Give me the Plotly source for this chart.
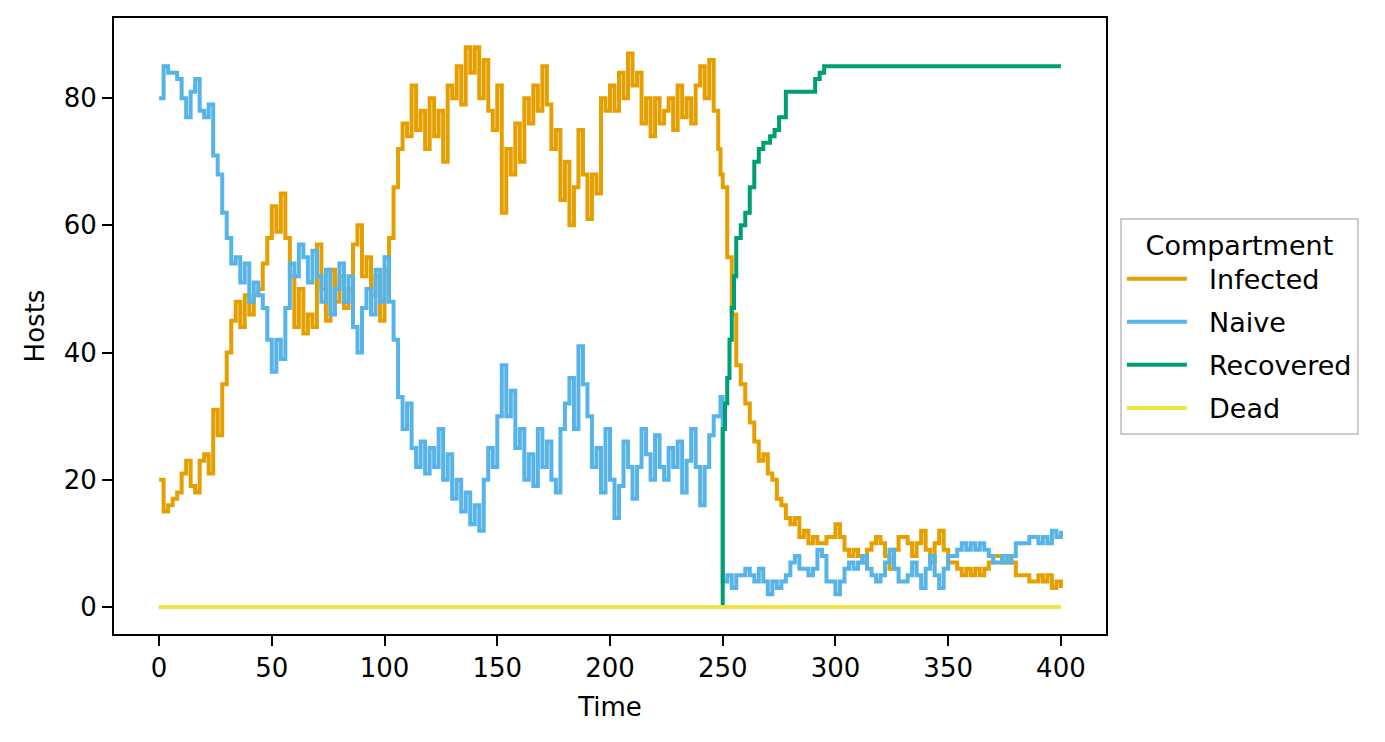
import plotly.graph_objects as go

# Shared time grid for Infected / Naive (249 added for the sudden drop at t=250)
time = list(range(0, 250, 2)) + [249] + list(range(250, 401, 2))

infected = [
    20, 15, 16, 17, 18, 21, 23, 19, 18, 23, 24, 21, 31, 27, 35, 40, 45, 48, 44, 49,   # 0-38
    46, 49, 50, 54, 58, 63, 59, 65, 58, 52, 44, 50, 43, 46, 44, 57, 50, 45, 53, 48,   # 40-78
    52, 47, 50, 57, 60, 52, 55, 49, 52, 45, 53, 58, 66, 72, 76, 74, 82, 75, 78, 72,   # 80-118
    80, 74, 78, 70, 82, 80, 85, 79, 88, 84, 88, 80, 86, 78, 75, 82, 62, 72, 68, 76,   # 120-158
    70, 80, 76, 82, 78, 85, 79, 72, 75, 64, 70, 60, 66, 75, 68, 61, 68, 65, 80, 78,   # 160-198
    82, 78, 84, 80, 87, 82, 84, 76, 80, 74, 80, 76, 78, 80, 75, 82, 77, 80, 76, 82,   # 200-238
    85, 80, 86, 78, 72,                                                               # 240-248
    68,                                                                               # 249
    66, 55, 46, 38, 35, 32, 29, 26, 23, 24, 21, 20, 17, 16, 14, 13, 14, 11, 12, 10,   # 250-288
    11, 10, 10, 11, 11, 13, 11, 9, 8, 9, 8, 7, 9, 10, 11, 10, 8, 6, 9, 11,            # 290-328
    11, 10, 8, 10, 12, 9, 7, 10, 12, 9, 7, 7, 6, 5, 6, 5, 6, 5, 6, 7,                 # 330-368
    8, 8, 7, 8, 7, 5, 5, 5, 4, 4, 5, 4, 5, 3, 4, 3,                                   # 370-400
]

naive = [
    80, 85, 84, 84, 83, 80, 77, 81, 83, 78, 77, 79, 71, 68, 62, 58, 54, 55, 51, 54,   # 0-38
    48, 51, 49, 47, 42, 37, 42, 39, 47, 54, 52, 57, 55, 51, 56, 52, 48, 53, 46, 50,   # 40-78
    54, 48, 52, 44, 40, 47, 50, 46, 53, 48, 55, 48, 42, 33, 28, 32, 25, 22, 26, 21,   # 80-118
    25, 22, 28, 20, 24, 17, 20, 15, 18, 13, 16, 12, 20, 25, 22, 30, 38, 30, 34, 25,   # 120-158
    28, 20, 24, 19, 28, 22, 26, 20, 18, 28, 32, 36, 28, 41, 35, 30, 22, 25, 18, 28,   # 160-198
    20, 14, 19, 26, 22, 17, 22, 28, 24, 20, 27, 22, 20, 25, 22, 26, 18, 23, 28, 22,   # 200-238
    16, 22, 27, 30, 30,                                                               # 240-248
    33,                                                                               # 249
    4, 5, 3, 5, 5, 6, 5, 4, 6, 4, 2, 4, 3, 4, 5, 7, 8, 6, 6, 5,                       # 250-288
    6, 9, 8, 4, 4, 2, 4, 6, 7, 6, 7, 8, 6, 5, 4, 5, 7, 9, 6, 4,                       # 290-328
    4, 5, 7, 5, 3, 6, 8, 5, 3, 6, 8, 8, 9, 10, 9, 10, 9, 10, 9, 8,                    # 330-368
    7, 7, 8, 7, 8, 10, 10, 10, 11, 11, 10, 11, 10, 12, 11, 12,                        # 370-400
]

recovered_t = [0, 249.9, 250, 251, 252, 253, 254, 255, 256, 258, 260, 262, 264, 266,
               268, 271, 273, 275, 278, 291, 293, 295, 400]
recovered = [0, 0, 28, 32, 36, 42, 47, 52, 58, 60, 62, 66, 70, 72,
             73, 74, 75, 77, 81, 83, 84, 85, 85]

dead_t = [0, 400]
dead = [0, 0]

x_ticks = [0, 50, 100, 150, 200, 250, 300, 350, 400]
y_ticks = [0, 20, 40, 60, 80]

colors = {"Infected": "#E69F00", "Naive": "#56B4E9",
          "Recovered": "#009E73", "Dead": "#F0E442"}

LW = 4
PAD = "  "  # visual gap between legend line sample and label, as in the reference
fig = go.Figure()
fig.add_trace(go.Scatter(x=time, y=infected, mode="lines", name=PAD + "Infected", legendgroup="a",
                         line=dict(color=colors["Infected"], width=LW, shape="hv")))
fig.add_trace(go.Scatter(x=time, y=naive, mode="lines", name=PAD + "Naive", legendgroup="b",
                         line=dict(color=colors["Naive"], width=LW, shape="hv")))
fig.add_trace(go.Scatter(x=recovered_t, y=recovered, mode="lines", name=PAD + "Recovered",
                         legendgroup="c",
                         line=dict(color=colors["Recovered"], width=LW, shape="hv")))
fig.add_trace(go.Scatter(x=dead_t, y=dead, mode="lines", name=PAD + "Dead", legendgroup="d",
                         line=dict(color=colors["Dead"], width=LW)))

axis_common = dict(showline=True, mirror=True, linecolor="black", linewidth=1.8,
                   ticks="outside", ticklen=10, tickwidth=1.8, tickcolor="black",
                   showgrid=False, zeroline=False,
                   tickfont=dict(size=26, color="black"))

fig.update_layout(
    width=1385, height=742,
    margin=dict(l=114, r=279, t=18, b=108),
    paper_bgcolor="white", plot_bgcolor="white",
    font=dict(family="DejaVu Sans", size=26, color="black"),
    xaxis=dict(range=[-20, 420], tickvals=x_ticks,
               title=dict(text="Time", font=dict(size=26), standoff=16), **axis_common),
    yaxis=dict(range=[-4.25, 92.6], tickvals=y_ticks,
               title=dict(text="Hosts", font=dict(size=26), standoff=12), **axis_common),
    legend=dict(x=1.014, xanchor="left", y=0.5, yanchor="middle",
                bordercolor="#cccccc", borderwidth=2, bgcolor="white",
                font=dict(size=27), tracegroupgap=5, itemwidth=60,
                title=dict(text="Compartment", side="top center", font=dict(size=27))),
    showlegend=True,
)

fig.write_html("out.html")
